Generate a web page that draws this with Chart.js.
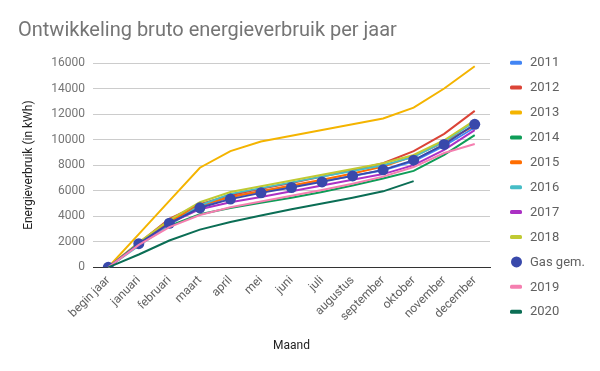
<!DOCTYPE html>
<html><head><meta charset="utf-8">
<script src="https://cdn.jsdelivr.net/npm/chart.js@4"></script>
<style>html,body{margin:0;padding:0;background:#fff}#wrap{width:600px;height:371px}</style>
</head><body><div id="wrap"><canvas id="c" width="600" height="371"></canvas></div>
<script>
const months = ['begin jaar','januari','februari','maart','april','mei','juni','juli','augustus','september','oktober','november','december'];
const yTicks = [0,2000,4000,6000,8000,10000,12000,14000,16000];
const seriesNames = ['2011','2012','2013','2014','2015','2016','2017','2018','Gas gem.','2019','2020'];
const seriesColors = ['#4285f4','#db4437','#f4b400','#0f9d58','#ff6d01','#46bdc6','#ab30c4','#c0ca33','#3949ab','#f57fb0','#0b6e55'];
const v2011 = [0,1850,3550,4750,5500,5950,6350,6750,7150,7600,8300,9500,10950];
const v2012 = [0,1900,3800,4950,5650,6150,6600,7100,7600,8150,9100,10450,12250];
const v2013 = [0,2600,5200,7800,9100,9850,10300,10750,11200,11650,12500,14000,15750];
const v2014 = [0,1800,3250,4150,4650,5050,5450,5900,6400,6950,7550,8800,10350];
const v2015 = [0,1850,3600,4850,5500,5950,6400,6850,7350,7900,8700,9800,11100];
const v2016 = [0,1700,3300,4850,5750,6200,6650,7100,7550,8000,8650,9850,11400];
const v2017 = [0,1800,3450,4550,5100,5500,5950,6400,6850,7300,8000,9200,10750];
const v2018 = [0,1950,3700,5100,5900,6350,6800,7250,7700,8150,8800,9950,11500];
const gasGem = [0,1850,3450,4660,5340,5830,6250,6690,7160,7630,8390,9620,11200];
const v2019 = [0,1750,3150,4100,4700,5150,5600,6050,6550,7100,7850,8950,9650];
const v2020 = [0,1000,2100,2950,3550,4050,4550,5000,5450,5950,6750,null,null];
const seriesValues = [v2011,v2012,v2013,v2014,v2015,v2016,v2017,v2018,gasGem,v2019,v2020];

const N = seriesNames.length;
const datasets = seriesNames.map((name,i)=>{
  const isGas = name === 'Gas gem.';
  return {
    label: name,
    data: seriesValues[i],
    borderColor: seriesColors[i],
    backgroundColor: seriesColors[i],
    borderWidth: 2,
    pointRadius: isGas ? 5.5 : 0,
    pointHoverRadius: isGas ? 5.5 : 0,
    pointBorderWidth: 0,
    tension: 0,
    fill: false,
    spanGaps: false,
    order: N - i
  };
});

const legendPlugin = {
  id: 'customLegend',
  afterDraw(chart){
    const ctx = chart.ctx;
    ctx.save();
    ctx.font = '13px Roboto';
    ctx.textBaseline = 'middle';
    ctx.textAlign = 'left';
    chart.data.datasets.forEach((ds,i)=>{
      const y = 62.7 + i*24.9;
      ctx.fillStyle = ds.borderColor;
      if (ds.pointRadius > 0){
        ctx.beginPath(); ctx.arc(516.5, y, 5.5, 0, Math.PI*2); ctx.fill();
      } else {
        ctx.beginPath();
        if (ctx.roundRect) ctx.roundRect(510, y-2, 12, 4, 1.5); else ctx.rect(510, y-2, 12, 4);
        ctx.fill();
      }
      ctx.fillStyle = '#616161';
      ctx.fillText(ds.label, 530, y+0.5);
    });
    ctx.restore();
  }
};

new Chart(document.getElementById('c'), {
  type: 'line',
  data: { labels: months, datasets },
  options: {
    responsive: false,
    animation: false,
    events: [],
    layout: { padding: { left: 18, right: 110, top: 0, bottom: 0 } },
    plugins: {
      legend: { display: false },
      tooltip: { enabled: false },
      title: {
        display: true,
        text: 'Ontwikkeling bruto energieverbruik per jaar',
        align: 'start',
        color: '#757575',
        font: { family: 'Roboto', size: 20, weight: 'normal' },
        padding: { top: 19, bottom: 20 }
      }
    },
    scales: {
      x: {
        offset: true,
        grid: { display: false, drawTicks: false },
        border: { display: true, color: '#333333', width: 1 },
        ticks: { color: '#616161', font: { family: 'Roboto', size: 12 }, minRotation: 45, maxRotation: 45, autoSkip: false, padding: 6 },
        title: { display: true, text: 'Maand', color: '#222222', font: { family: 'Roboto', size: 12 }, padding: { top: 4, bottom: 18 } },
        afterFit(scale){ scale.height = 103.7; }
      },
      y: {
        min: 0, max: 16000,
        afterBuildTicks(scale){ scale.ticks = yTicks.map(v=>({value:v})); },
        grid: { color: ctx => ctx.tick && ctx.tick.value === 0 ? '#333333' : '#cccccc', drawTicks: false, lineWidth: 1 },
        border: { display: false },
        ticks: { color: '#757575', font: { family: 'Roboto', size: 12 }, padding: 8, callback: v => String(v) },
        title: { display: true, text: 'Energieverbruik (in kWh)', color: '#222222', font: { family: 'Roboto', size: 12 }, padding: { top: 4, bottom: 4 } },
        afterFit(scale){ scale.width = 75; }
      }
    }
  },
  plugins: [legendPlugin]
});
</script>
</body></html>
